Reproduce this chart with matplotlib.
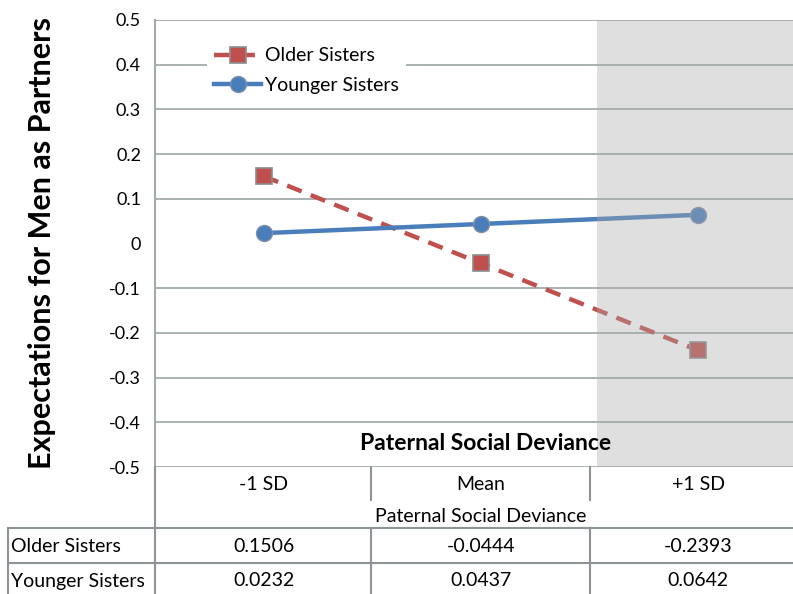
import matplotlib
matplotlib.use("Agg")
import matplotlib.pyplot as plt
from matplotlib.lines import Line2D
from matplotlib.transforms import blended_transform_factory

categories = ["-1 SD", "Mean", "+1 SD"]
series_names = ["Older Sisters", "Younger Sisters"]
older = [0.1506, -0.0444, -0.2393]
younger = [0.0232, 0.0437, 0.0642]
y_ticks = [-0.5, -0.4, -0.3, -0.2, -0.1, 0.0, 0.1, 0.2, 0.3, 0.4, 0.5]
x_title = "Paternal Social Deviance"
y_title = "Expectations for Men as Partners"

W, H = 793, 594
plt.rcParams['font.family'] = ['Lato', 'DejaVu Sans']

fig = plt.figure(figsize=(W / 100, H / 100), dpi=100)
fig.patch.set_facecolor("white")


def fx(x):
    return x / W


def fy(y):
    return 1 - y / H


# plot area (right end runs past the cropped edge, like the original)
left, right, top, bottom = 155, 807, 20, 467
ax = fig.add_axes([fx(left), fy(bottom), (right - left) / W, (bottom - top) / H])
ax.set_xlim(-0.5, 2.5)
ax.set_ylim(-0.5, 0.5)

grid_col = "#a3aaad"
for t in y_ticks:
    if t != 0.0:
        ax.axhline(t, color=grid_col, lw=1.3, zorder=1)

ax.set_yticks(y_ticks)
ax.set_yticklabels(["0" if t == 0 else "%g" % t for t in y_ticks])
ax.tick_params(axis="y", length=0, pad=10, labelsize=13)
ax.set_xticks([])
for s in ["top", "right", "bottom"]:
    ax.spines[s].set_visible(False)
ax.spines["left"].set_color(grid_col)
ax.spines["left"].set_linewidth(1.5)

x = range(len(categories))
ax.plot(x, older, color="#c0504d", lw=3.2, ls=(0, (3.5, 2.2)), marker="s",
        markersize=11, markerfacecolor="#c0504d", markeredgecolor="#8c8c8c",
        markeredgewidth=1.2, label=series_names[0], zorder=3)
ax.plot(x, younger, color="#4a7ebb", lw=3.2, marker="o",
        markersize=11.5, markerfacecolor="#4a7ebb", markeredgecolor="#7f8fa6",
        markeredgewidth=1.0, label=series_names[1], zorder=3)

# shaded region over the +1 SD side
ax.axvspan(1.535, 2.5, color="#aaaaaa", alpha=0.37, lw=0, zorder=4)

leg = ax.legend(loc="upper left", bbox_to_anchor=(0.079, 0.956), frameon=True,
                fontsize=14, handlelength=2.4, handletextpad=0.2,
                borderpad=0.4, labelspacing=0.62, borderaxespad=0)
leg.get_frame().set_facecolor("white")
leg.get_frame().set_edgecolor("none")
leg.get_frame().set_alpha(1)
leg.set_zorder(5)

ax.text(1.02, -0.447, x_title, ha="center", va="center", fontsize=16.5,
        fontweight="bold", zorder=6)

fig.text(fx(42), fy(243), y_title, rotation=90, ha="center", va="center",
         fontsize=22, fontweight="bold")

# data table under the plot
line_col = "#8d9497"
segs = [
    ((8, 528), (W, 528)),
    ((8, 563), (W, 563)),
    ((8, 528), (8, H)),
    ((155, 467), (155, H)),
    ((371, 467), (371, 500)),
    ((590, 467), (590, 500)),
    ((371, 528), (371, H)),
    ((590, 528), (590, H)),
]
for (x0, y0), (x1, y1) in segs:
    fig.add_artist(Line2D([fx(x0), fx(x1)], [fy(y0), fy(y1)], color=line_col,
                          lw=1.5))

tr = blended_transform_factory(ax.transData, fig.transFigure)
for i, c in enumerate(categories):
    fig.text(i, fy(485), c, transform=tr, ha="center", va="center", fontsize=14)
fig.text(1, fy(517), x_title, transform=tr, ha="center", va="center", fontsize=14)

rows = [(series_names[0], older, 547), (series_names[1], younger, 581)]
for name, vals, yy in rows:
    fig.text(fx(11), fy(yy), name, ha="left", va="center", fontsize=14)
    for i, v in enumerate(vals):
        fig.text(i, fy(yy), "%.4f" % v, transform=tr, ha="center",
                 va="center", fontsize=14)

fig.savefig("out.png", dpi=100, facecolor="white")
